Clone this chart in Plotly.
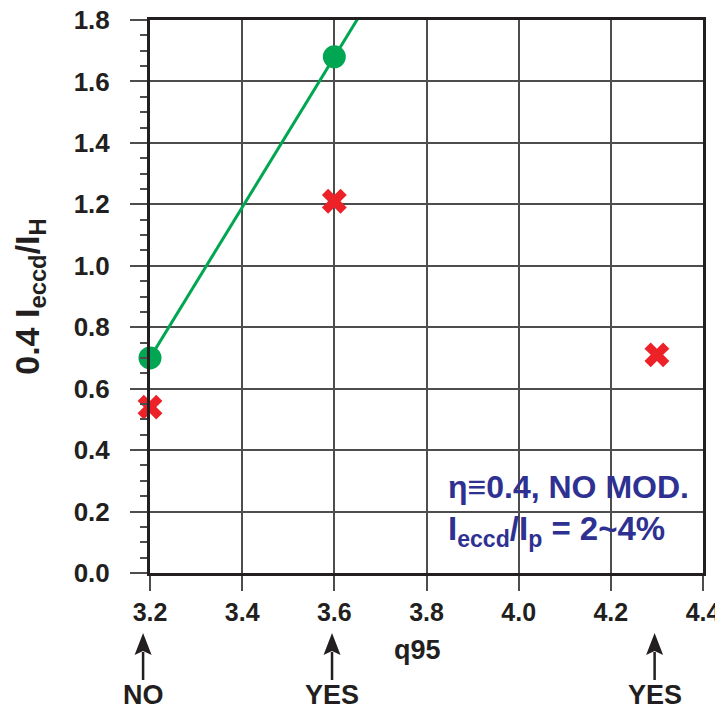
import numpy as np
import plotly.graph_objects as go

# data
green_x = [3.2, 3.6]
green_y = [0.70, 1.68]
red_x = [3.2, 3.6, 4.3]
red_y = [0.54, 1.21, 0.71]
arrow_x = [3.185, 3.595, 4.295]
arrow_labels = ["NO", "YES", "YES"]
x_ticks = [3.2, 3.4, 3.6, 3.8, 4.0, 4.2, 4.4]
y_ticks = [0.0, 0.2, 0.4, 0.6, 0.8, 1.0, 1.2, 1.4, 1.6, 1.8]
x_range = [3.2, 4.4]
y_range = [0.0, 1.8]

FONT = "Liberation Sans, Arial, Helvetica"
TXT = "#231F20"
GRID = "#4D4D4D"
GREEN = "#00A651"
RED = "#ED2228"
BLUE = "#2E3192"

# plot area geometry (px)
W, H = 715, 703
ML, MR, MT, MB = 142, 20, 12, 138
PW, PH = W - ML - MR, H - MT - MB


def px_dx(d):
    return d / PW


def px_dy(d):
    return d / PH


slope, icpt = np.polyfit(green_x, green_y, 1)
line_x = np.array([green_x[0], 3.75])
line_y = slope * line_x + icpt

fig = go.Figure()
fig.add_trace(go.Scatter(x=line_x, y=line_y, mode="lines",
                         line=dict(color=GREEN, width=3), cliponaxis=True,
                         showlegend=False, hoverinfo="skip"))
fig.add_trace(go.Scatter(x=green_x, y=green_y, mode="markers",
                         marker=dict(color=GREEN, size=23, symbol="circle"),
                         cliponaxis=False, showlegend=False))
fig.add_trace(go.Scatter(x=red_x, y=red_y, mode="markers",
                         marker=dict(color=RED, size=22, symbol="x", line=dict(width=0)),
                         cliponaxis=False, showlegend=False))

ann = []
shapes = []
tip_y = -px_dy(60)      # arrow tip below the x axis
base_y = -px_dy(82)
tail_y = -px_dy(107)
hw = px_dx(8.5)
for xa, lab in zip(arrow_x, arrow_labels):
    px = (xa - x_range[0]) / (x_range[1] - x_range[0])
    shapes.append(dict(type="line", xref="paper", yref="paper",
                       x0=px, x1=px, y0=tail_y, y1=base_y + px_dy(3),
                       line=dict(color=TXT, width=2.5)))
    shapes.append(dict(type="path", xref="paper", yref="paper",
                       path="M%f,%f L%f,%f L%f,%f L%f,%f Z" % (
                           px, tip_y, px + hw, base_y, px, base_y + px_dy(4), px - hw, base_y),
                       fillcolor=TXT, line=dict(width=0)))
    ann.append(dict(x=px, xref="paper", y=-px_dy(122), yref="paper", text="<b>%s</b>" % lab,
                    showarrow=False, xanchor="center", yanchor="middle",
                    font=dict(family=FONT, size=27, color=TXT)))
ann.append(dict(x=px_dx(267), xref="paper", y=-px_dy(77), yref="paper", text="<b>q95</b>",
                showarrow=False, xanchor="center", yanchor="middle",
                font=dict(family=FONT, size=27, color=TXT)))
ann.append(dict(x=px_dx(296), xref="paper", y=px_dy(86), yref="paper",
                text="<b>η≡0.4, NO MOD.</b>", showarrow=False, xanchor="left", yanchor="middle",
                font=dict(family=FONT, size=32, color=BLUE)))
ann.append(dict(x=px_dx(296), xref="paper", y=px_dy(42), yref="paper",
                text="<b>I<sub>eccd</sub>/I<sub>p</sub> = 2~4%</b>", showarrow=False,
                xanchor="left", yanchor="middle",
                font=dict(family=FONT, size=33, color=BLUE)))

fig.update_layout(
    width=W, height=H,
    margin=dict(l=ML, r=MR, t=MT, b=MB),
    paper_bgcolor="white", plot_bgcolor="white",
    font=dict(family=FONT, color=TXT),
    annotations=ann, shapes=shapes,
    xaxis=dict(range=x_range, tickvals=x_ticks, ticktext=["<b>%.1f</b>" % v for v in x_ticks],
               showgrid=True, gridcolor=GRID, gridwidth=1.5, automargin=False,
               showline=True, linecolor=TXT, linewidth=3, mirror=True,
               ticks="outside", ticklen=15, tickwidth=1.5, tickcolor=GRID,
               ticklabeloverflow="allow",
               tickfont=dict(family=FONT, size=25, color=TXT), zeroline=False),
    yaxis=dict(range=y_range, tickvals=y_ticks, ticktext=["<b>%.1f</b>" % v for v in y_ticks],
               showgrid=True, gridcolor=GRID, gridwidth=1.5, automargin=False,
               showline=True, linecolor=TXT, linewidth=3, mirror=True,
               ticks="outside", ticklen=17, tickwidth=1.5, tickcolor=GRID,
               ticklabelstandoff=15, ticklabeloverflow="allow",
               minor=dict(dtick=0.05, ticks="outside", ticklen=7, tickwidth=1.5,
                          tickcolor=GRID, showgrid=False),
               tickfont=dict(family=FONT, size=26, color=TXT), zeroline=False,
               title=dict(text="<b>0.4 I<sub>eccd</sub>/I<sub>H</sub></b>",
                          font=dict(family=FONT, size=34, color=TXT), standoff=28)),
)
fig.write_html("out.html")
